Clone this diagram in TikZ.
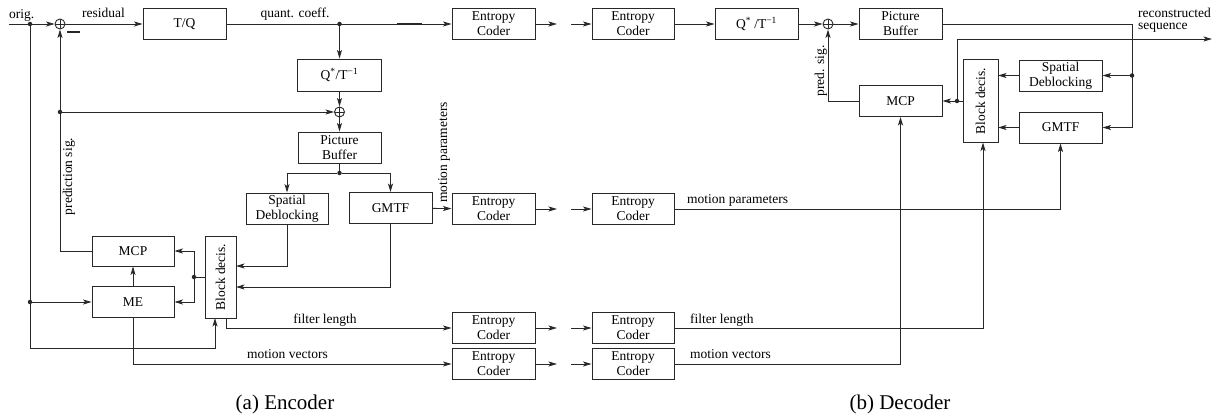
\documentclass[tikz,border=0pt]{standalone}
\usepackage{fontspec}
\setmainfont{Liberation Serif}
\usetikzlibrary{arrows.meta,calc}
\definecolor{lc}{RGB}{40,40,40}
\begin{document}
\begin{tikzpicture}[x=1pt,y=-1pt,
  every node/.style={font=\fontsize{13.5}{15}\selectfont, inner sep=0pt},
  box/.style={draw=lc, line width=0.9pt, minimum width=83pt, minimum height=31pt, align=center},
  ln/.style={draw=lc, line width=0.9pt},
  arr/.style={ln, -{Stealth[length=8.5pt,width=5pt,inset=2pt]}},
  dot/.style={circle, fill=lc, minimum size=4.5pt, inner sep=0pt},
  adder/.style={circle, draw=lc, line width=0.9pt, minimum size=10pt,
    path picture={\draw[lc, line width=0.9pt] (path picture bounding box.north) -- (path picture bounding box.south) (path picture bounding box.west) -- (path picture bounding box.east);}},
  captext/.style={anchor=base, font=\fontsize{21}{24}\selectfont},
]
\useasboundingbox (0,0) rectangle (1214,417);

% ---------------- Encoder nodes
\node[adder] (A1) at (60,24) {};
\node[box] (TQ) at (184.5,24) {T/Q};
\node[box] (EC1) at (493.5,24) {Entropy\\Coder};
\node[box, minimum width=84pt, minimum height=32pt] (Qe) at (339.5,75) {Q\textsuperscript{*}/T\textsuperscript{−1}};
\node[adder] (A2) at (339.5,112) {};
\node[box] (PBe) at (339.5,147.5) {Picture\\Buffer};
\node[box, minimum width=82pt] (SDe) at (287,208.5) {Spatial\\Deblocking};
\node[box] (GMe) at (390.5,208) {GMTF};
\node[box] (EC2) at (493.5,209) {Entropy\\Coder};
\node[box, minimum width=82pt, minimum height=30pt] (MCPe) at (133,251) {MCP};
\node[box, minimum width=82pt] (MEe) at (133,302) {ME};
\node[box, minimum width=31pt, minimum height=82pt] (BDe) at (220.5,277) {\rotatebox{90}{Block decis.}};
\node[box] (EC3) at (493.5,328) {Entropy\\Coder};
\node[box] (EC4) at (493.5,364) {Entropy\\Coder};

% ---------------- Decoder nodes
\node[box, minimum width=82pt] (DC1) at (633,24) {Entropy\\Coder};
\node[box, minimum width=82pt] (DC2) at (633,209) {Entropy\\Coder};
\node[box, minimum width=82pt] (DC3) at (633,328) {Entropy\\Coder};
\node[box, minimum width=82pt] (DC4) at (633,364) {Entropy\\Coder};
\node[box] (Qd) at (756.5,24) {Q\textsuperscript{*} /T\textsuperscript{−1}};
\node[adder] (A3) at (828,24) {};
\node[box] (PBd) at (900.5,24) {Picture\\Buffer};
\node[box] (MCPd) at (900.5,101) {MCP};
\node[box, minimum width=35pt, minimum height=83pt] (BDd) at (980.5,101) {\rotatebox{90}{Block decis.}};
\node[box] (SDd) at (1060.5,75.5) {Spatial\\Deblocking};
\node[box] (GMd) at (1060.5,127.5) {GMTF};

% ---------------- dots and coordinates
\node[dot] (d1) at (30,24) {};
\node[dot] (d2) at (30,302) {};
\node[dot] (d3) at (339.5,24) {};
\node[dot] (d4) at (60,112) {};
\node[dot] (d5) at (339.5,173) {};
\node[dot] (d6) at (194,277) {};
\node[dot] (d7) at (1132,75.5) {};
\node[dot] (d8) at (957,101) {};

\coordinate (orig) at (9,24);
\coordinate (c1) at (30,348);
\coordinate (bdin1) at (236,266);
\coordinate (bdin2) at (236,287);
\coordinate (bdin3) at (215,318);
\coordinate (bdout) at (226,318);
\coordinate (g1a) at (557,24);  \coordinate (g1b) at (571,24);
\coordinate (g2a) at (557,209); \coordinate (g2b) at (571,209);
\coordinate (g3a) at (557,328); \coordinate (g3b) at (571,328);
\coordinate (g4a) at (557,364); \coordinate (g4b) at (571,364);
\coordinate (c2) at (1132,127.5);
\coordinate (bdd1) at (998,75.5);
\coordinate (bdd2) at (998,127.5);
\coordinate (bdd3) at (983,142.5);
\coordinate (out) at (1212,39);

% ---------------- Encoder connectors
\draw[arr] (orig) -- (A1);
\draw[arr] (A1) -- (TQ);
\draw[arr] (TQ) -- (EC1);
\draw[lc, line width=1.8pt] (397,24) -- (422,24);
\draw[lc, line width=1.8pt] (67,32) -- (80,32);
\draw[arr] (d3) -- (Qe);
\draw[arr] (Qe) -- (A2);
\draw[arr] (A2) -- (PBe);
\draw[arr] (d4) -- (A2);
\draw[arr] (MCPe) -| (A1);
\draw[ln] (PBe) -- (d5);
\draw[arr] (d5) -| (SDe);
\draw[arr] (d5) -| (GMe);
\draw[arr] (GMe) -- (EC2);
\draw[arr] (SDe) |- (bdin1);
\draw[arr] (GMe) |- (bdin2);
\draw[ln] (BDe) -- (d6);
\draw[arr] (d6) |- (MCPe);
\draw[arr] (d6) |- (MEe);
\draw[arr] (MEe) -- (MCPe);
\draw[arr] (d2) -- (MEe);
\draw[arr] (d1) -- (c1) -| (bdin3);
\draw[arr] (bdout) |- (EC3);
\draw[arr] (MEe) |- (EC4);

% ---------------- between
\draw[arr] (EC1) -- (g1a); \draw[arr] (g1b) -- (DC1);
\draw[arr] (EC2) -- (g2a); \draw[arr] (g2b) -- (DC2);
\draw[arr] (EC3) -- (g3a); \draw[arr] (g3b) -- (DC3);
\draw[arr] (EC4) -- (g4a); \draw[arr] (g4b) -- (DC4);

% ---------------- Decoder connectors
\draw[arr] (DC1) -- (Qd);
\draw[arr] (Qd) -- (A3);
\draw[arr] (A3) -- (PBd);
\draw[arr] (MCPd) -| (A3);
\draw[arr] (PBd) -| (c2) -- (GMd);
\draw[arr] (d7) -- (SDd);
\draw[arr] (SDd) -- (bdd1);
\draw[arr] (GMd) -- (bdd2);
\draw[ln] (BDd) -- (d8);
\draw[arr] (d8) -- (MCPd);
\draw[arr] (d8) |- (out);
\draw[arr] (DC2) -| (GMd);
\draw[arr] (DC3) -| (bdd3);
\draw[arr] (DC4) -| (MCPd);

% ---------------- labels
\node[anchor=base west] (lorig) at (9,18.5) {orig.};
\node[anchor=base] (lres) at (103.5,18) {residual};
\node[anchor=base] (lqc) at (295,18) {quant. coeff.};
\node[rotate=90] (lps) at (69,176.5) {prediction sig.};
\node[rotate=90] (lmp) at (444,152.5) {motion parameters};
\node[anchor=base] (lfl) at (325,323) {filter length};
\node[anchor=base] (lmv) at (287.5,358) {motion vectors};
\node[rotate=90] (lpsd) at (821,71) {pred. sig.};
\node[anchor=base west] (lmpd) at (687,203) {motion parameters};
\node[anchor=base west] (lfld) at (690,323) {filter length};
\node[anchor=base west] (lmvd) at (690,358) {motion vectors};
\node[anchor=base west] (lrec1) at (1138,18) {reconstructed};
\node[anchor=base west] (lrec2) at (1138,30) {sequence};
\node[captext] (capa) at (285,409) {(a) Encoder};
\node[captext] (capb) at (900,409) {(b) Decoder};
\end{tikzpicture}
\end{document}
